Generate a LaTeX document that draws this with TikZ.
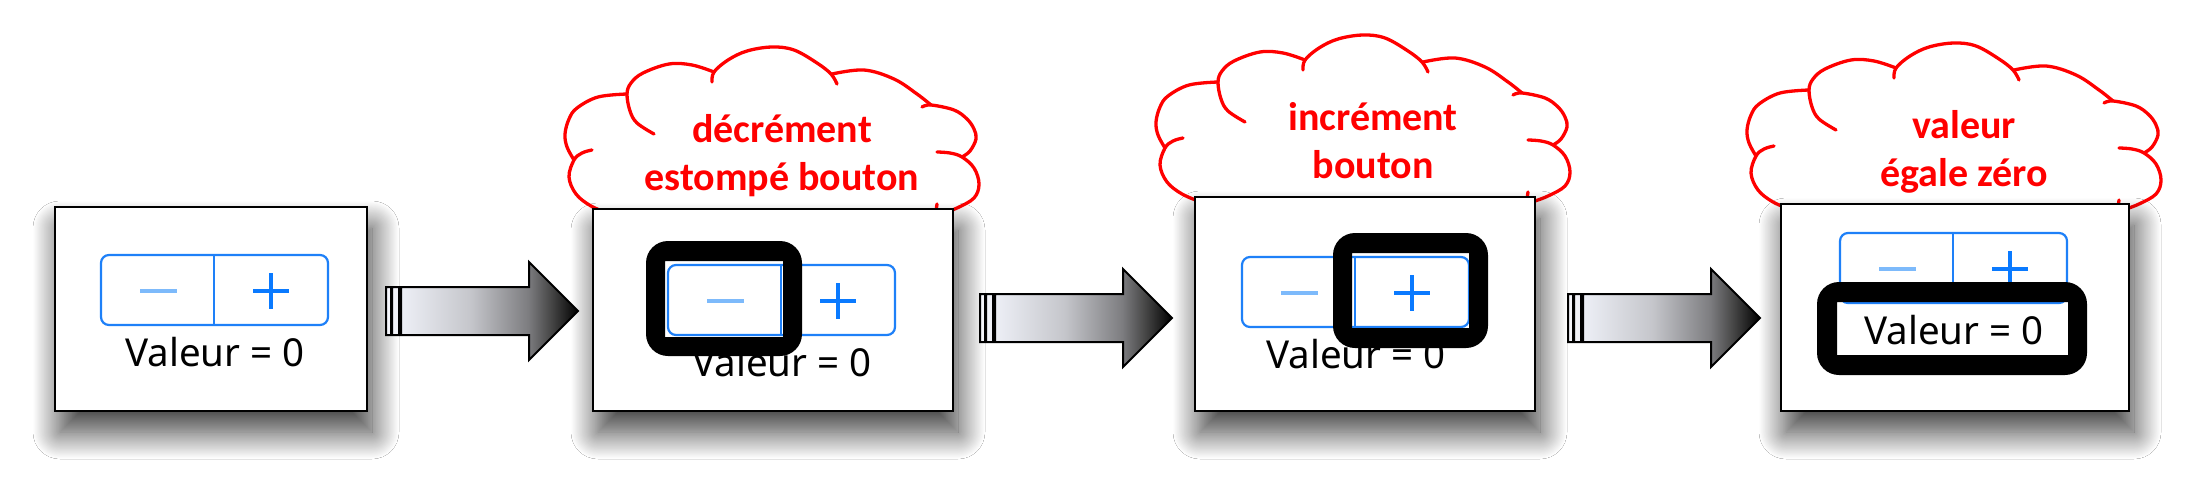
\documentclass[tikz,border=0pt]{standalone}
\usepackage{fontspec}
\setmainfont{Noto Sans}
\newfontfamily\cloudfont{Carlito}
\usetikzlibrary{shadows.blur}
\definecolor{iosblue}{HTML}{0A7AFF}
\definecolor{iosline}{HTML}{1E80F8}
\definecolor{iosfaint}{HTML}{7DBAFB}
\definecolor{cloudred}{HTML}{FF0000}
\definecolor{ashA}{HTML}{F6F7FC}
\definecolor{ashB}{HTML}{EDEFF6}
\definecolor{ashC}{HTML}{C5C6CB}
\definecolor{ashD}{HTML}{7D7D80}
\definecolor{ashE}{HTML}{464646}
\definecolor{ashF}{HTML}{000000}
\pgfdeclarehorizontalshading{arrowshade}{100bp}{color(0bp)=(ashA); color(25bp)=(ashA); color(29bp)=(ashB); color(47bp)=(ashC); color(62bp)=(ashD); color(68bp)=(ashE); color(75bp)=(ashF); color(100bp)=(ashF)}
\tikzset{
  panel/.style={draw=black, line width=2.2pt, fill=white, inner sep=0pt, outer sep=0pt,
    blur shadow={shadow xshift=5pt, shadow yshift=-21pt, shadow blur radius=27pt, shadow blur steps=40, shadow opacity=78}},
  stepline/.style={draw=iosline, line width=2.2pt},
  minusbar/.style={draw=iosfaint, line width=4pt},
  plusbar/.style={draw=iosblue, line width=4pt},
  valtext/.style={font=\fontsize{38.5}{46}\selectfont, text=black, inner sep=0pt},
  cloudline/.style={draw=cloudred, line width=3.3pt, line cap=round},
  cloudtext/.style={font=\cloudfont\bfseries\fontsize{40}{48}\selectfont, text=cloudred, align=center, inner sep=0pt},
  ring/.style={fill=black, even odd rule},
  blockarrow/.style={draw=black, line width=2pt, shading=arrowshade},
}
\newcommand\drawstepper[1]{%
  \draw[stepline, rounded corners=8pt] (0,0) rectangle (227,70);
  \draw[stepline] (113,0) -- (113,70);
  \draw[minusbar] (39,36) -- (76,36);
  \draw[plusbar] (152,36) -- (188,36);
  \draw[plusbar] (170,18) -- (170,54);
  \node[valtext, anchor=base] (val#1) at (114,111) {Valeur = 0};
}
\newcommand\drawcloud{%
  \draw[cloudline] plot[smooth, tension=0.6] coordinates {(27,103) (17,106) (9,113) (4,130) (11,147) (26,159) (45,167)};
  \draw[cloudline] plot[smooth, tension=0.6] coordinates {(9,113) (2,100) (0,87) (4,72) (12,61) (33,50) (62,47)};
  \draw[cloudline] plot[smooth, tension=0.6] coordinates {(89,87) (72,76) (65,64) (62,47) (66,36) (78,26) (104,17) (127,18) (149,25)};
  \draw[cloudline] plot[smooth, tension=0.6] coordinates {(147,35) (149,25) (163,13) (182,4) (207,0) (229,3) (252,16) (266,27) (272,37)};
  \draw[cloudline] plot[smooth, tension=0.6] coordinates {(267,27) (299,23) (329,32) (352,47) (366,58)};
  \draw[cloudline] plot[smooth, tension=0.6] coordinates {(357,60) (366,58) (389,63) (402,72) (409,82) (411,92) (405,104) (397,110)};
  \draw[cloudline] plot[smooth, tension=0.6] coordinates {(372,105) (385,106) (397,110) (409,121) (414,137) (409,151) (392,161) (376,167)};
  \draw[cloudline] (372,157) -- (371,164);
}
\newcommand\drawarrow{%
  \path[blockarrow] (0,-24) rectangle (5,24) (6,-24) rectangle (13,24)
    (15,-24) -- (143,-24) -- (143,-49) -- (192,0) -- (143,49) -- (143,24) -- (15,24) -- cycle;
}
\begin{document}
\begin{tikzpicture}[x=1pt, y=-1pt]
\fill[white] (0,0) rectangle (2202,482);
\useasboundingbox (0,0) rectangle (2202,482);

% clouds
\begin{scope}[shift={(565,47)}]
  \drawcloud
  \node[cloudtext, anchor=base] (ct2) at (217,143) {décrément\\estompé bouton};
\end{scope}
\begin{scope}[shift={(1156,35)}]
  \drawcloud
  \node[cloudtext, anchor=base] (ct3) at (217,143) {incrément\\bouton};
\end{scope}
\begin{scope}[shift={(1747,43)}]
  \drawcloud
  \node[cloudtext, anchor=base] (ct4) at (217,143) {valeur\\égale zéro};
\end{scope}

% panels
\node[panel, minimum width=312pt, minimum height=204pt] (p1) at (211,309) {};
\node[panel, minimum width=360pt, minimum height=202pt] (p2) at (773,310) {};
\node[panel, minimum width=340pt, minimum height=214pt] (p3) at (1365,304) {};
\node[panel, minimum width=348pt, minimum height=207pt] (p4) at (1955,307.5) {};

\begin{scope}[shift={(101,255)}] \drawstepper{1} \end{scope}
\begin{scope}[shift={(668,265)}] \drawstepper{2} \end{scope}
\begin{scope}[shift={(1242,257)}] \drawstepper{3} \end{scope}
\begin{scope}[shift={(1840,233)}] \drawstepper{4} \end{scope}

% highlight rings
\path[ring] [rounded corners=22pt] (646,241) rectangle (802,356) [sharp corners] (665,261) rectangle (783,337);
\path[ring] [rounded corners=22pt] (1333,233) rectangle (1488,348) [sharp corners] (1352,253) rectangle (1469,328);
\path[ring] [rounded corners=22pt] (1817,282) rectangle (2087,375) [sharp corners] (1837,302) rectangle (2068,355);

% arrows
\begin{scope}[shift={(386,311)}] \drawarrow \end{scope}
\begin{scope}[shift={(980,318)}] \drawarrow \end{scope}
\begin{scope}[shift={(1568,318)}] \drawarrow \end{scope}
\end{tikzpicture}
\end{document}
